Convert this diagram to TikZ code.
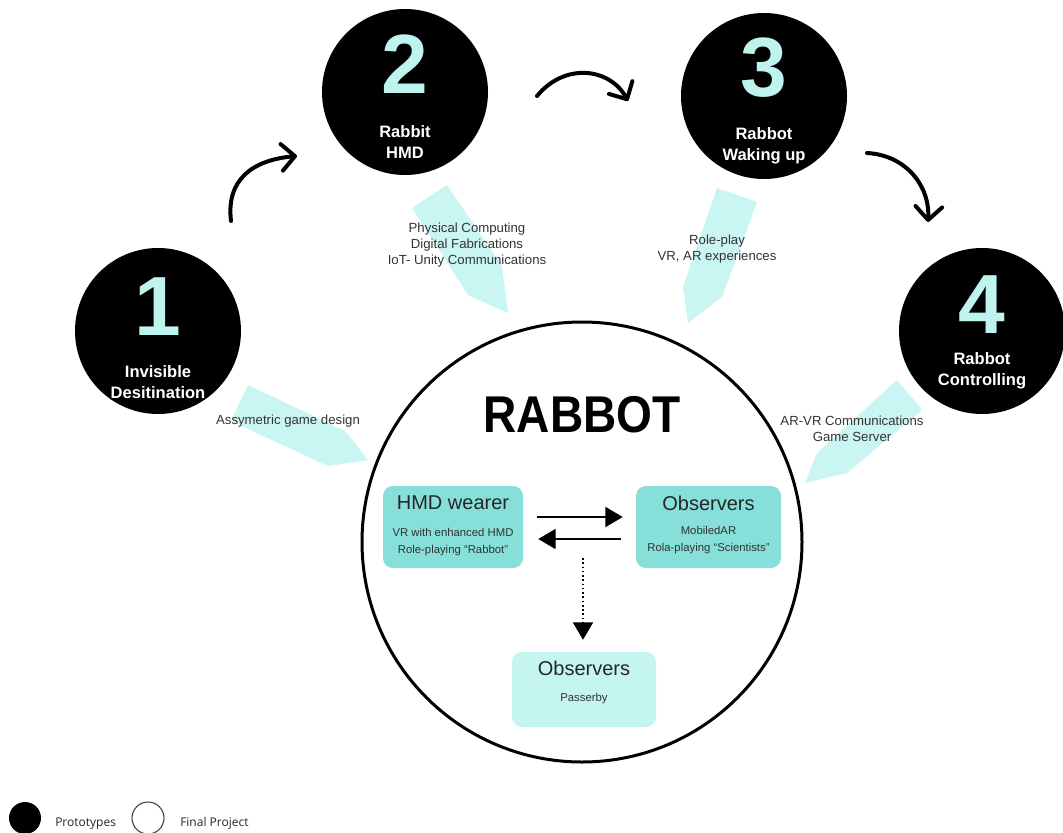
\documentclass[tikz,border=0pt]{standalone}
\usepackage{fontspec}
\usepackage{graphicx}
\setmainfont{Liberation Sans}
\newfontfamily\legendfont{Open Sans}
\usetikzlibrary{arrows.meta,calc}
\definecolor{numcyan}{HTML}{BFF3EE}
\definecolor{flowcyan}{HTML}{C9F5F2}
\definecolor{boxteal}{HTML}{86DFD8}
\definecolor{boxlight}{HTML}{C5F5F1}
\definecolor{labelgray}{HTML}{333333}
\begin{document}
\begin{tikzpicture}[x=0.75pt,y=-0.75pt,
  stage/.style={circle,fill=black,draw=none,minimum size=124.5pt,inner sep=0pt},
  numeral/.style={text=numcyan,font=\fontsize{63}{63}\selectfont\bfseries,inner sep=0pt},
  stagename/.style={text=white,align=center,font=\fontsize{12.4}{15.75}\selectfont\bfseries,inner sep=0pt},
  flow/.style={fill=flowcyan,draw=none},
  flowlabel/.style={text=labelgray,align=center,font=\fontsize{9.9}{12}\selectfont,inner sep=0pt},
  cycle/.style={line width=3pt,line cap=round,-{Straight Barb[length=10pt,width=20pt,round]}},
  role/.style={rounded corners=7.5pt,inner sep=0pt,draw=none},
  roletitle/.style={font=\fontsize{15}{15}\selectfont,text=black!85,inner sep=0pt},
  rolesub/.style={font=\fontsize{8.5}{12.75}\selectfont,align=center,text=black!80,inner sep=0pt},
  link/.style={line width=1.2pt,-{Triangle[length=13pt,width=15pt]}},
]
\fill[white] (0,0) rectangle (1063,832);
\useasboundingbox (0,0) rectangle (1063,832);

% broad pointers feeding the final project
\fill[flow] (248,385) -- (345,431) -- (368,460) -- (328,466) -- (231,421) -- cycle;
\fill[flow] (412,208) -- (447,185) -- (502,266) -- (508,313) -- (468,295) -- cycle;
\fill[flow] (717,188) -- (757,202) -- (722,297) -- (688,323) -- (683,287) -- cycle;
\fill[flow] (897,380) -- (922,410) -- (847,473) -- (805,483) -- (817,453) -- cycle;

% prototype stages
\node[stage] (c1) at (158,331) {};
\node[stage] (c2) at (405,92) {};
\node[stage] (c3) at (764,96) {};
\node[stage] (c4) at (982,331) {};

\node[numeral] (n1) at ($(c1)+(0,-24)$) {1};
\node[numeral] (n2) at ($(c2)+(0,-28)$) {2};
\node[numeral] (n3) at ($(c3)+(0,-28)$) {3};
\node[numeral] (n4) at ($(c4)+(0,-26)$) {4};

\node[stagename] (t1) at ($(c1)+(0,51)$) {Invisible\\Desitination};
\node[stagename] (t2) at ($(c2)+(0,50)$) {Rabbit\\HMD};
\node[stagename] (t3) at ($(c3)+(0,50)$) {Rabbot\\Waking up};
\node[stagename] (t4) at ($(c4)+(0,40)$) {Rabbot\\Controlling};

% sequence between the stages
\draw[cycle] ($(c1)+(73,-110)$) .. controls (226,180) and (252,160) .. ($(c2)+(-108,64)$);
\draw[cycle] ($(c2)+(132,4)$) .. controls (565,62) and (610,68) .. ($(c3)+(-136,5)$);
\draw[cycle] ($(c3)+(103,57)$) .. controls (905,155) and (930,185) .. ($(c4)+(-54,-109)$);

% final project
\node[circle,draw=black,line width=2.25pt,minimum size=330pt,inner sep=0pt] (big) at (582,542) {};
\node[inner sep=0pt] (title) at (582,415) {\scalebox{0.89}[1]{\fontsize{38.8}{38.8}\selectfont\bfseries RABBOT}};

% labels on the pointers
\node[flowlabel] (l1) at (288,421) {Assymetric game design};
\node[flowlabel] (l2) at (467,245) {Physical Computing\\Digital Fabrications\\IoT- Unity Communications};
\node[flowlabel] (l3) at (717,249) {Role-play\\VR, AR experiences};
\node[flowlabel] (l4) at (852,429) {AR-VR Communications\\Game Server};

% roles
\node[role,fill=boxteal,minimum width=105pt,minimum height=61.5pt] (b1) at (453,527) {};
\node[role,fill=boxteal,minimum width=108.75pt,minimum height=61.5pt] (b2) at (708.5,527) {};
\node[role,fill=boxlight,minimum width=108pt,minimum height=56.25pt] (b3) at (584,689.5) {};

\node[roletitle] (b1t) at ($(b1)+(0,-24)$) {HMD wearer};
\node[rolesub] (b1s) at ($(b1)+(0,15)$) {VR with enhanced HMD\\Role-playing ``Rabbot''};
\node[roletitle] (b2t) at ($(b2)+(0,-24)$) {Observers};
\node[rolesub] (b2s) at ($(b2)+(0,13)$) {MobiledAR\\Rola-playing ``Scientists''};
\node[roletitle] (b3t) at ($(b3)+(0,-21)$) {Observers};
\node[rolesub] (b3s) at ($(b3)+(0,9)$) {Passerby};

\draw[link] ($(b1.east)+(14,-10)$) -- ($(b2.west)+(-13,-10)$);
\draw[link] ($(b2.west)+(-15,12)$) -- ($(b1.east)+(15,12)$);
\coordinate (split) at (583,558);
\draw[link,dotted] (split) -- ($(b3.north)+(-1,-12)$);

% legend
\node[circle,fill=black,minimum size=24pt,inner sep=0pt] (proto) at (25,818) {};
\node[anchor=base west,inner sep=0pt,font=\legendfont\fontsize{9}{9}\selectfont,text=black!85] (protot) at (55,826) {Prototypes};
\node[circle,draw=black!75,line width=0.8pt,minimum size=24pt,inner sep=0pt] (final) at (148,818) {};
\node[anchor=base west,inner sep=0pt,font=\legendfont\fontsize{9}{9}\selectfont,text=black!85] (finalt) at (180,826) {Final Project};
\end{tikzpicture}
\end{document}
